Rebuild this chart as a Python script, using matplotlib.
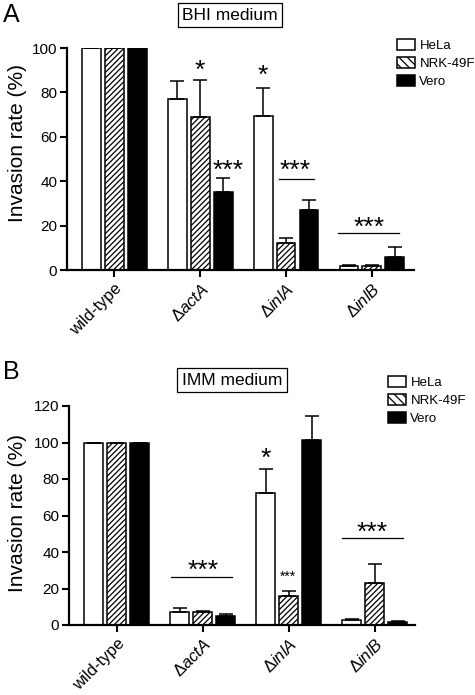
import numpy as np
import matplotlib
matplotlib.use("Agg")
import matplotlib.pyplot as plt
from matplotlib.patches import Patch

plt.rcParams['font.family'] = ['Liberation Sans', 'DejaVu Sans']
plt.rcParams['mathtext.fontset'] = 'custom'
plt.rcParams['mathtext.rm'] = 'Liberation Sans'
plt.rcParams['mathtext.it'] = 'Liberation Sans:italic'
plt.rcParams['hatch.linewidth'] = 0.9

# data
strains = ['wild-type', r'$\Delta\mathit{actA}$', r'$\Delta\mathit{inlA}$', r'$\Delta\mathit{inlB}$']
cells = ['HeLa', 'NRK-49F', 'Vero']

bhi_hela = [100, 76.9, 69.5, 1.9]
bhi_hela_err = [0, 8.3, 12.5, 0.4]
bhi_nrk = [100, 69.0, 12.0, 1.9]
bhi_nrk_err = [0, 16.8, 2.3, 0.4]
bhi_vero = [100, 35.1, 26.9, 6.0]
bhi_vero_err = [0, 6.2, 4.6, 4.4]

imm_hela = [100, 7.3, 72.4, 2.6]
imm_hela_err = [0, 1.8, 13.0, 0.6]
imm_nrk = [100, 7.3, 15.9, 22.8]
imm_nrk_err = [0, 0.6, 2.7, 10.8]
imm_vero = [100, 4.9, 101.6, 1.6]
imm_vero_err = [0, 1.1, 12.8, 0.7]

fig = plt.figure(figsize=(4.75, 6.95), dpi=100)
axA = fig.add_axes([67/475, 1-270/695, (414-67)/475, (270-48)/695])
axB = fig.add_axes([69/475, 1-625/695, (415-69)/475, (625-406)/695])

x = np.arange(len(strains))
step = 0.267
w = 0.22


def draw(ax, hela, hela_e, nrk, nrk_e, vero, vero_e, ymax, yticks):
    kw = dict(width=w, edgecolor='black', linewidth=1.1, zorder=2,
              error_kw=dict(elinewidth=1.1, capsize=5, capthick=1.1, ecolor='black'))
    ax.bar(x - step, hela, color='white',
           yerr=[np.zeros(4), hela_e], **kw)
    ax.bar(x, nrk, color='white', hatch='//////',
           yerr=[np.zeros(4), nrk_e], **kw)
    ax.bar(x + step, vero, color='black',
           yerr=[np.zeros(4), vero_e], **kw)
    ax.set_ylim(0, ymax)
    ax.set_yticks(yticks)
    ax.set_xticks(x)
    ax.set_xticklabels(strains, rotation=45, ha='right', rotation_mode='anchor', fontsize=12)
    ax.tick_params(axis='y', labelsize=11, width=1.5, length=5, pad=2)
    ax.tick_params(axis='x', width=1.5, length=5, pad=3)
    for s in ['top', 'right']:
        ax.spines[s].set_visible(False)
    for s in ['left', 'bottom']:
        ax.spines[s].set_linewidth(1.6)
    ax.set_ylabel('Invasion rate (%)', fontsize=15)
    ax.patch.set_alpha(0)


draw(axA, bhi_hela, bhi_hela_err, bhi_nrk, bhi_nrk_err, bhi_vero, bhi_vero_err, 100, [0, 20, 40, 60, 80, 100])
axA.set_xlim(-0.55, 3.49)
axA.yaxis.set_label_coords(-0.115, 0.57)
draw(axB, imm_hela, imm_hela_err, imm_nrk, imm_nrk_err, imm_vero, imm_vero_err, 120, [0, 20, 40, 60, 80, 100, 120])
axB.set_xlim(-0.555, 3.47)
axB.yaxis.set_label_coords(-0.12, 0.51)

star = dict(ha='center', va='center', fontsize=19, clip_on=False)
# panel A stars
axA.text(1, 89.9, '*', **star)
axA.text(2 - step, 87.3, '*', **star)
axA.text(1.33, 44.5, '***', **star)
axA.text(2.11, 44.5, '***', **star)
axA.plot([1.92, 2.32], [41, 41], color='black', lw=0.9)
axA.text(2.97, 19.1, '***', **star)
axA.plot([2.61, 3.32], [16.7, 16.7], color='black', lw=0.9)

# panel B stars
axB.text(1.0, 29.8, '***', **star)
axB.plot([0.63, 1.34], [26.4, 26.4], color='black', lw=0.9)
axB.text(2 - step, 91.1, '*', **star)
axB.text(1.99, 26.4, '***', ha='center', va='center', fontsize=10)
axB.text(2.97, 50.5, '***', **star)
axB.plot([2.62, 3.33], [47.6, 47.6], color='black', lw=0.9)

# panel letters and medium boxes
fig.text(3/475, 1-15/695, 'A', fontsize=18, va='center', ha='left')
fig.text(3/475, 1-372/695, 'B', fontsize=18, va='center', ha='left')
box = dict(boxstyle='square,pad=0.25', facecolor='white', edgecolor='black', linewidth=0.9)
fig.text(230/475, 1-15/695, 'BHI medium', fontsize=12.5, ha='center', va='center', bbox=box)
fig.text(232/475, 1-380/695, 'IMM medium', fontsize=12.5, ha='center', va='center', bbox=box)

handles = [Patch(facecolor='white', edgecolor='black', linewidth=1.1, label='HeLa'),
           Patch(facecolor='white', edgecolor='black', linewidth=1.1, hatch='\\\\\\\\', label='NRK-49F'),
           Patch(facecolor='black', edgecolor='black', linewidth=1.1, label='Vero')]
legkw = dict(frameon=False, fontsize=9.5, handlelength=1.35, handleheight=0.85,
             handletextpad=0.35, labelspacing=0.4, borderaxespad=0, borderpad=0)
fig.legend(handles=handles, loc='upper left', bbox_to_anchor=(397/475, 1-39/695), **legkw)
fig.legend(handles=handles, loc='upper left', bbox_to_anchor=(388/475, 1-376/695), **legkw)

fig.savefig('out.png', dpi=100)
